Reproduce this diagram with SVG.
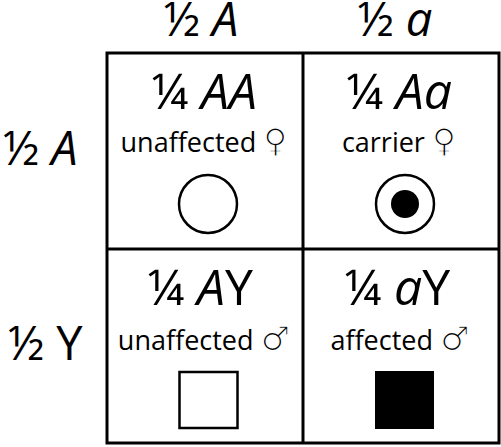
<svg xmlns="http://www.w3.org/2000/svg" width="501" height="447" viewBox="0 0 501 447">
<style>
.hd{font-family:"Open Sans","Noto Sans","DejaVu Sans",sans-serif;font-size:47px;fill:#000}
.big{font-family:"Open Sans","Noto Sans","DejaVu Sans",sans-serif;font-size:50px;fill:#000}
.sub{font-family:"Open Sans","Noto Sans","DejaVu Sans",sans-serif;font-size:27px;fill:#000}
.sym{font-family:"DejaVu Sans",sans-serif;font-size:33px;fill:#000;stroke:#fff;stroke-width:1.3px}
.it{font-style:italic}
.grid{fill:none;stroke:#000;stroke-width:3}
.shape{fill:#fff;stroke:#000;stroke-width:2.5}
</style>
<rect width="501" height="447" fill="#fff"/>
<g id="headers">
<text class="hd" x="201" y="36" text-anchor="middle">½ <tspan class="it">A</tspan></text>
<text class="hd" x="395" y="36" text-anchor="middle">½ <tspan class="it">a</tspan></text>
<text class="hd" x="3" y="165">½ <tspan class="it">A</tspan></text>
<text class="hd" x="8" y="360">½ Y</text>
</g>
<g id="grid">
<rect class="grid" x="107" y="53" width="392" height="390"/>
<line class="grid" x1="303" y1="53" x2="303" y2="443"/>
<line class="grid" x1="107" y1="249" x2="499" y2="249"/>
</g>
<g id="cell-AA">
<text class="big" x="204" y="109" text-anchor="middle">¼ <tspan class="it">AA</tspan></text>
<text class="sub" x="204" y="152" text-anchor="middle">unaffected <tspan class="sym">♀</tspan></text>
<circle class="shape" cx="208" cy="204" r="29"/>
</g>
<g id="cell-Aa">
<text class="big" x="399" y="109" text-anchor="middle">¼ <tspan class="it">Aa</tspan></text>
<text class="sub" x="399" y="152" text-anchor="middle">carrier <tspan class="sym">♀</tspan></text>
<circle class="shape" cx="405" cy="204" r="29"/>
<circle cx="405" cy="204" r="14" fill="#000"/>
</g>
<g id="cell-AY">
<text class="big" x="200" y="305" text-anchor="middle">¼ <tspan class="it">A</tspan>Y</text>
<text class="sub" x="204" y="350" text-anchor="middle">unaffected <tspan class="sym">♂</tspan></text>
<rect class="shape" x="179.5" y="372" width="58" height="56"/>
</g>
<g id="cell-aY">
<text class="big" x="397" y="305" text-anchor="middle">¼ <tspan class="it">a</tspan>Y</text>
<text class="sub" x="400" y="350" text-anchor="middle">affected <tspan class="sym">♂</tspan></text>
<rect x="375" y="371" width="59" height="58" fill="#000"/>
</g>
</svg>
